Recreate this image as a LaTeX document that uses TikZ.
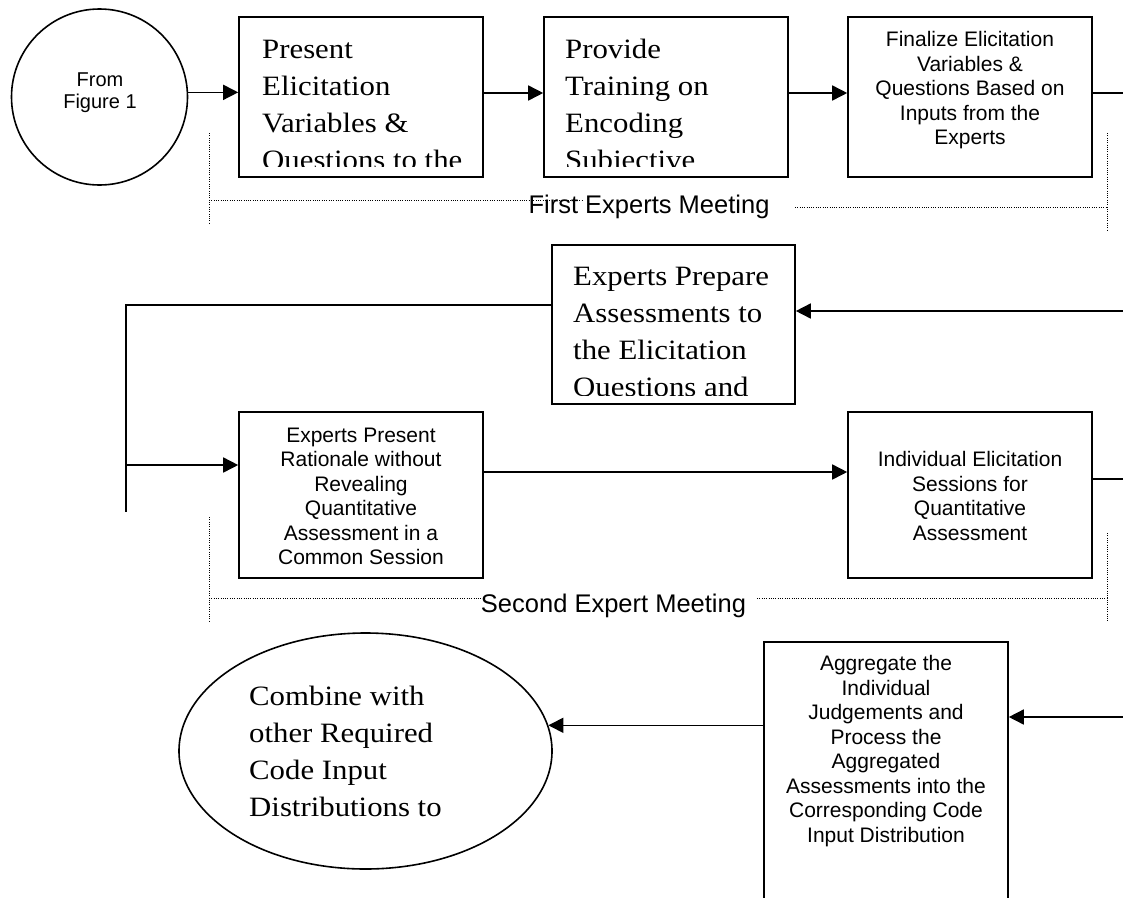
\documentclass[tikz,border=0pt]{standalone}
\usepackage{fontspec}
\newfontfamily\tnr{Liberation Serif}[FakeStretch=1.1]
\newfontfamily\ari{Liberation Sans}
\usetikzlibrary{arrows.meta,shapes.geometric}
\begin{document}
\begin{tikzpicture}[x=1pt,y=-1pt,
  box/.style={draw,line width=1.6pt,rectangle,inner sep=0pt},
  conn/.style={line width=1.6pt},
  arr/.style={conn,-{Triangle[length=15pt,width=15pt]}},
  dotl/.style={line width=1pt,dash pattern=on 1pt off 1.3pt},
  sline/.style={font=\tnr\fontsize{28}{37}\selectfont,anchor=base west,inner sep=0pt},
  stext/.style={font=\ari\fontsize{21}{24.5}\selectfont,align=center,inner sep=0pt},
  mlabel/.style={font=\ari\fontsize{25.5}{30}\selectfont,anchor=base,inner sep=0pt}
]
\useasboundingbox (0,0) rectangle (1123,897);

% ---- top row ----
\node[draw,circle,line width=1.6pt,minimum size=176pt,inner sep=0pt] (circ) at (99.5,97) {};
\node[stext,font=\ari\fontsize{20}{22}\selectfont] (circt) at (100,93) {From\\Figure 1};

\node[box,minimum width=244pt,minimum height=160pt] (b1) at (361,97) {};
\node[box,minimum width=244pt,minimum height=160pt] (b2) at (666,97) {};
\node[box,minimum width=244pt,minimum height=160pt] (b3) at (970,97) {};

\begin{scope}
  \clip (239,17) rectangle (483,166);
  \foreach \t [count=\i from 0] in {Present,Elicitation,Variables \&,Questions to the}
    \node[sline] (b1t\i) at (262,58+37*\i) {\t};
\end{scope}
\begin{scope}
  \clip (544,17) rectangle (788,166);
  \foreach \t [count=\i from 0] in {Provide,Training on,Encoding,Subjective}
    \node[sline] (b2t\i) at (565,58+37*\i) {\t};
\end{scope}
\node[stext] (b3t) at (970,90.5) {Finalize Elicitation\\Variables \&\\Questions Based on\\Inputs from the\\Experts};

% ---- middle ----
\node[box,minimum width=243pt,minimum height=159pt] (b4) at (673.5,324.5) {};
\begin{scope}
  \clip (552,245) rectangle (795,395);
  \foreach \t [count=\i from 0] in {Experts Prepare,Assessments to,the Elicitation,Questions and}
    \node[sline] (b4t\i) at (573,285+37*\i) {\t};
\end{scope}

\node[box,minimum width=244pt,minimum height=166pt] (b5) at (361,495) {};
\node[stext] (b5t) at (361,496.5) {Experts Present\\Rationale without\\Revealing\\Quantitative\\Assessment in a\\Common Session};
\node[box,minimum width=244pt,minimum height=166pt] (b6) at (970,495) {};
\node[stext] (b6t) at (970,496) {Individual Elicitation\\Sessions for\\Quantitative\\Assessment};

% ---- bottom ----
\node[draw,ellipse,line width=1.6pt,minimum width=373pt,minimum height=236pt,inner sep=0pt] (ell) at (365.5,751) {};
\foreach \t [count=\i from 0] in {Combine with,other Required,Code Input,Distributions to}
  \node[sline] (elt\i) at (249,705+37.3*\i) {\t};

\node[box,minimum width=244pt,minimum height=268pt] (b7) at (886,776) {};
\node[stext] (b7t) at (886,751) {Aggregate the\\Individual\\Judgements and\\Process the\\Aggregated\\Assessments into the\\Corresponding Code\\Input Distribution};

% ---- connectors ----
\coordinate (r1) at (0,93);
\draw[arr] (circ.3) -- (b1.west |- circ.3);
\draw[arr] (b1.east |- r1) -- (b2.west |- r1);
\draw[arr] (b2.east |- r1) -- (b3.west |- r1);
\coordinate (e1) at (1130,93);
\draw[conn] (b3.east |- r1) -- (e1);

\coordinate (e2) at (1130,311);
\draw[arr] (e2) -- (b4.east |- e2);
\coordinate (k1) at (126,305);
\coordinate (k2) at (126,512);
\coordinate (k3) at (126,465);
\draw[conn] (b4.west |- k1) -- (k1) -- (k2);
\draw[arr] (k3) -- (b5.west |- k3);
\coordinate (r2) at (0,472);
\draw[arr] (b5.east |- r2) -- (b6.west |- r2);
\coordinate (e3) at (1130,479);
\draw[conn] (b6.east |- e3) -- (e3);

\coordinate (e4) at (1130,717);
\draw[arr] (e4) -- (b7.east |- e4);
\draw[arr] (b7.west |- ell.8) -- (ell.8);

% ---- meeting brackets ----
\draw[dotl] (209,133) -- (209,223);
\draw[dotl] (209,200) -- (583,200);
\node[mlabel] (m1) at (649,213) {First Experts Meeting};
\draw[dotl] (795,207) -- (1107,207);
\draw[dotl] (1107,133) -- (1107,230);

\draw[dotl] (209,517) -- (209,622);
\draw[dotl] (209,598) -- (485,598);
\node[mlabel] (m2) at (613.5,612) {Second Expert Meeting};
\draw[dotl] (757,598) -- (1107,598);
\draw[dotl] (1107,533) -- (1107,622);
\end{tikzpicture}
\end{document}
